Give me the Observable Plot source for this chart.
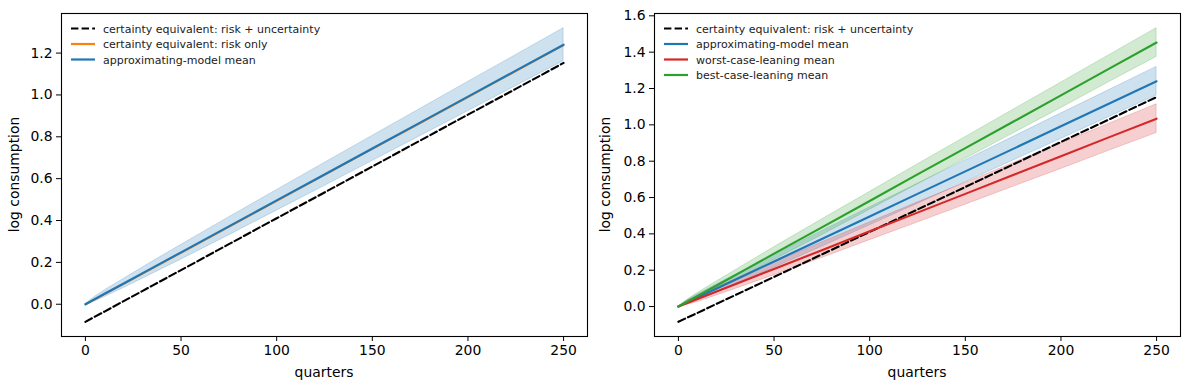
<!DOCTYPE html>
<html><head><meta charset="utf-8">
<script src="https://cdn.jsdelivr.net/npm/d3@7"></script>
<script src="https://cdn.jsdelivr.net/npm/@observablehq/plot@0.6"></script>
<style>
body{margin:0;background:#fff;}
#wrap{position:relative;width:1189px;height:389px;overflow:hidden;}
#left,#right{position:absolute;top:0;}
#left{left:0}
#right{left:594px}
svg{font-family:"DejaVu Sans",sans-serif;}
</style></head><body>
<div id="wrap"><div id="left"></div><div id="right"></div></div>
<script>
// ---- data ----
const quarters   = [0, 5, 10, 20, 35, 50, 75, 100, 125, 150, 175, 200, 225, 250];
const ceRiskUnc  = [-0.084, -0.059, -0.035, 0.015, 0.089, 0.163, 0.287, 0.411, 0.534, 0.658, 0.782, 0.906, 1.029, 1.153];
const ceRiskOnly = [-0.003, 0.022, 0.047, 0.096, 0.171, 0.245, 0.369, 0.493, 0.617, 0.741, 0.865, 0.989, 1.113, 1.237];
const approxMean = [0, 0.025, 0.050, 0.099, 0.174, 0.248, 0.372, 0.496, 0.620, 0.744, 0.868, 0.992, 1.116, 1.240];
const worstMean  = [0, 0.021, 0.041, 0.083, 0.145, 0.207, 0.310, 0.414, 0.517, 0.620, 0.724, 0.827, 0.931, 1.034];
const bestMean   = [0, 0.029, 0.058, 0.116, 0.203, 0.291, 0.436, 0.581, 0.727, 0.872, 1.017, 1.162, 1.308, 1.453];
const bandHalf   = [0, 0.011, 0.016, 0.022, 0.029, 0.035, 0.043, 0.049, 0.055, 0.060, 0.065, 0.070, 0.074, 0.079];
const xTicks      = [0, 50, 100, 150, 200, 250];
const yTicksLeft  = [0, 0.2, 0.4, 0.6, 0.8, 1.0, 1.2];
const yTicksRight = [0, 0.2, 0.4, 0.6, 0.8, 1.0, 1.2, 1.4, 1.6];

const C = {blue:"#1f77b4", orange:"#ff7f0e", green:"#2ca02c", red:"#d62728", black:"#000000"};

function rows(vals, half) {
  return quarters.map((t, i) => ({t, y: vals[i], lo: half ? vals[i] - half[i] : null, hi: half ? vals[i] + half[i] : null}));
}

function padDomain(lines, bands) {
  const vals = [];
  lines.forEach(l => l.data.forEach(d => vals.push(d.y)));
  bands.forEach(b => b.data.forEach(d => { vals.push(d.lo); vals.push(d.hi); }));
  const [a, b] = d3.extent(vals);
  const p = (b - a) * 0.05;
  return [a - p, b + p];
}

function panel(el, {width, ml, mr, lines, bands, yTicks, legend, ylabX}) {
  const H = 389, mt = 13, mb = 53;
  const marks = [];
  bands.forEach(b => marks.push(Plot.areaY(b.data, {x: "t", y1: "lo", y2: "hi", fill: b.color, fillOpacity: 0.22, stroke: b.color, strokeOpacity: 0.22, strokeWidth: 1})));
  lines.forEach(l => marks.push(Plot.lineY(l.data, {x: "t", y: "y", stroke: l.color, strokeWidth: l.w || 2.1, strokeDasharray: l.dash ? "7.4,3.2" : null})));
  marks.push(Plot.frame({stroke: "black", strokeWidth: 1.1}));
  marks.push(Plot.axisX({ticks: xTicks, tickSize: 5, tickPadding: 4, label: null, fontSize: 13.9, tickFormat: d3.format("d")}));
  marks.push(Plot.axisY({ticks: yTicks, tickSize: 5, tickPadding: 4, label: null, fontSize: 13.9, tickFormat: d3.format(".1f")}));
  const svg = Plot.plot({
    width, height: H, marginLeft: ml, marginRight: mr, marginTop: mt, marginBottom: mb,
    x: {domain: [-12.5, 262.5]},
    y: {domain: padDomain(lines, bands)},
    style: {fontFamily: "DejaVu Sans", fontSize: "13.9px", background: "white", overflow: "visible"},
    marks
  });
  const s = d3.select(svg);
  const cx = ml + (width - ml - mr) / 2;
  s.append("text").attr("x", cx).attr("y", 377).attr("text-anchor", "middle")
    .attr("font-size", 13.9).attr("fill", "black").text("quarters");
  s.append("text").attr("transform", `translate(${ylabX},${mt + (H - mt - mb) / 2}) rotate(-90)`)
    .attr("text-anchor", "middle").attr("font-size", 13.9).attr("fill", "black").text("log consumption");
  const g = s.append("g");
  legend.forEach((it, i) => {
    const yy = 28.5 + i * 15.5;
    const ln = g.append("line").attr("x1", ml + 10).attr("x2", ml + 34).attr("y1", yy).attr("y2", yy)
      .attr("stroke", it.color).attr("stroke-width", 2.2);
    if (it.dash) ln.attr("stroke-dasharray", "7.4,3.2");
    g.append("text").attr("x", ml + 42).attr("y", yy + 4).attr("text-anchor", "start")
      .attr("font-size", 11).attr("fill", "#222").text(it.label);
  });
  el.appendChild(svg);
}

const ceLine = {data: rows(ceRiskUnc), color: C.black, dash: true};
const approxBand = {data: rows(approxMean, bandHalf), color: C.blue};

panel(document.getElementById("left"), {
  width: 594, ml: 61, mr: 7, ylabX: 19,
  bands: [approxBand],
  lines: [ceLine, {data: rows(ceRiskOnly), color: C.orange, w: 1.6}, {data: rows(approxMean), color: C.blue}],
  yTicks: yTicksLeft,
  legend: [
    {label: "certainty equivalent: risk + uncertainty", color: C.black, dash: true},
    {label: "certainty equivalent: risk only", color: C.orange},
    {label: "approximating-model mean", color: C.blue}
  ]
});

panel(document.getElementById("right"), {
  width: 595, ml: 60, mr: 9, ylabX: 16,
  bands: [approxBand, {data: rows(worstMean, bandHalf), color: C.red}, {data: rows(bestMean, bandHalf), color: C.green}],
  lines: [ceLine, {data: rows(approxMean), color: C.blue}, {data: rows(worstMean), color: C.red}, {data: rows(bestMean), color: C.green}],
  yTicks: yTicksRight,
  legend: [
    {label: "certainty equivalent: risk + uncertainty", color: C.black, dash: true},
    {label: "approximating-model mean", color: C.blue},
    {label: "worst-case-leaning mean", color: C.red},
    {label: "best-case-leaning mean", color: C.green}
  ]
});
</script>
</body></html>
